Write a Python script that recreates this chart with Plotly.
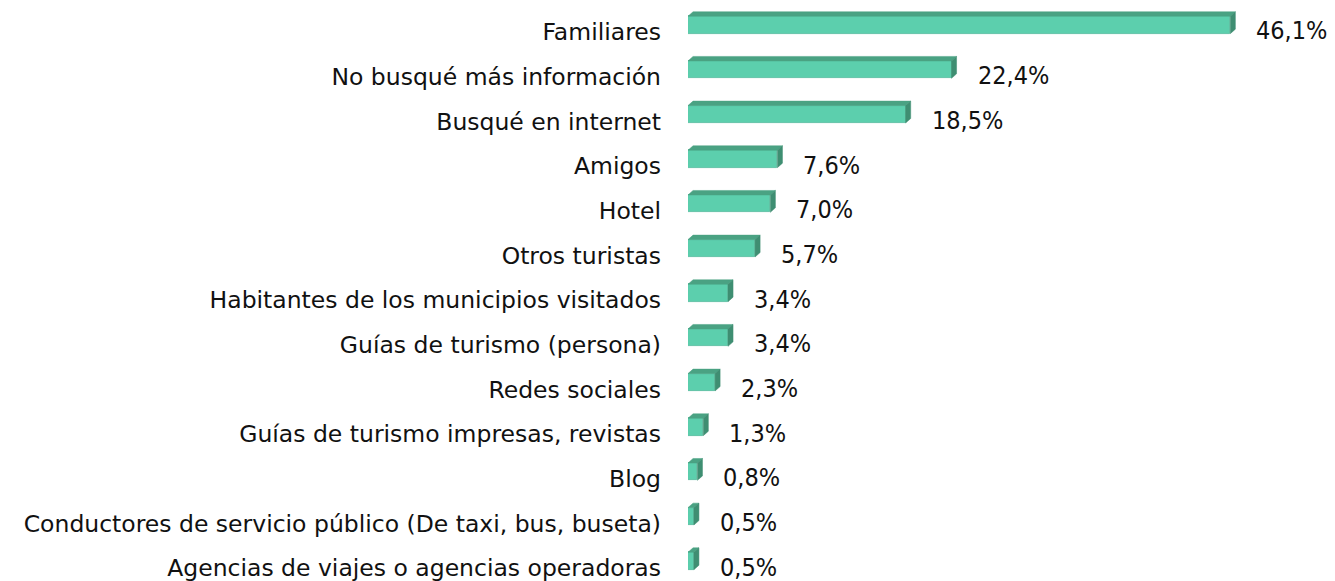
import plotly.graph_objects as go

categories = [
    "Familiares",
    "No busqué más información",
    "Busqué en internet",
    "Amigos",
    "Hotel",
    "Otros turistas",
    "Habitantes de los municipios visitados",
    "Guías de turismo (persona)",
    "Redes sociales",
    "Guías de turismo impresas, revistas",
    "Blog",
    "Conductores de servicio público (De taxi, bus, buseta)",
    "Agencias de viajes o agencias operadoras",
]
values = [46.1, 22.4, 18.5, 7.6, 7.0, 5.7, 3.4, 3.4, 2.3, 1.3, 0.8, 0.5, 0.5]
value_labels = ["46,1%", "22,4%", "18,5%", "7,6%", "7,0%", "5,7%", "3,4%",
                "3,4%", "2,3%", "1,3%", "0,8%", "0,5%", "0,5%"]

FRONT = "#5CCFAD"
TOP = "#4AA283"
SIDE = "#3F8E72"

pos = list(range(len(categories)))
off = -0.158      # bars sit slightly above label centre
h = 0.39          # bar thickness in category units
dx = 0.43         # 3D depth (x units)
dy = 0.10         # 3D depth (y units)

centers = [p + off for p in pos]

fig = go.Figure()

tx, ty, sx, sy = [], [], [], []
for c, v in zip(centers, values):
    top_y = c - h / 2
    bot_y = c + h / 2
    tx += [0, dx, v + dx, v, 0, None]
    ty += [top_y, top_y - dy, top_y - dy, top_y, top_y, None]
    sx += [v, v + dx, v + dx, v, v, None]
    sy += [top_y, top_y - dy, bot_y - dy, bot_y, top_y, None]

fig.add_trace(go.Scatter(x=tx, y=ty, fill="toself", fillcolor=TOP, mode="lines",
                         line=dict(color=TOP, width=0.5), hoverinfo="skip",
                         showlegend=False))
fig.add_trace(go.Scatter(x=sx, y=sy, fill="toself", fillcolor=SIDE, mode="lines",
                         line=dict(color=SIDE, width=0.5), hoverinfo="skip",
                         showlegend=False))
fig.add_trace(go.Bar(x=values, y=centers, orientation="h", width=h,
                     marker=dict(color=FRONT, line=dict(color="#52B99A", width=0.8)),
                     showlegend=False, hovertext=categories))

for p, v, t in zip(pos, values, value_labels):
    fig.add_annotation(x=v + dx, y=p, text=t, showarrow=False, xanchor="left",
                       yanchor="middle", xshift=19, yshift=1,
                       font=dict(family="DejaVu Sans Condensed", size=25, color="#111111"))

# page body has an 8px margin, so the figure is sized/offset to compensate
fig.update_layout(
    width=1327, height=573,
    margin=dict(l=680, r=0, t=0, b=0),
    paper_bgcolor="white", plot_bgcolor="white",
    xaxis=dict(range=[0, 55.0], visible=False),
    yaxis=dict(range=[12.29, -0.537], tickvals=pos, ticktext=categories,
               showgrid=False, zeroline=False, showline=False, ticks="",
               ticklabelstandoff=26, ticklabeloverflow="allow",
               tickfont=dict(family="DejaVu Sans", size=23.5, color="#111111")),
    bargap=0,
)

fig.write_html("out.html")
